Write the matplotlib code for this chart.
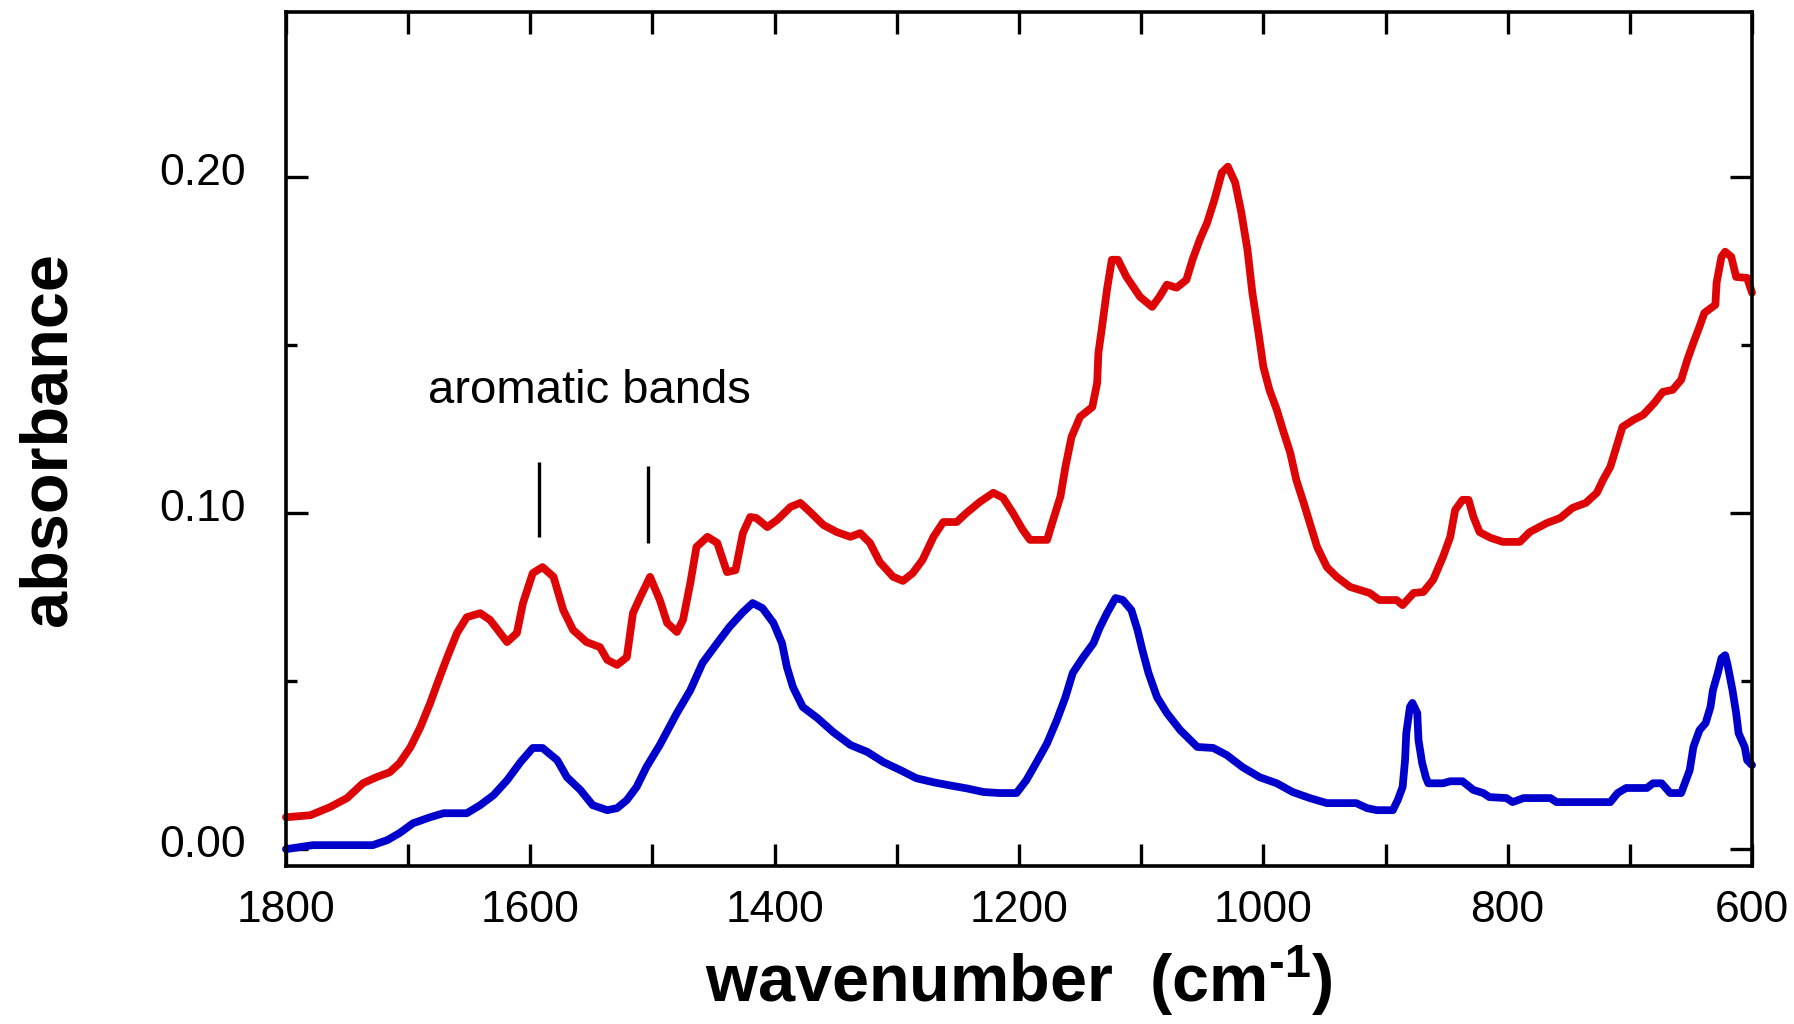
import matplotlib
matplotlib.use("Agg")
import matplotlib.pyplot as plt
import matplotlib.transforms as mtransforms
from matplotlib.ticker import MultipleLocator, FormatStrFormatter

plt.rcParams['font.family'] = ['Liberation Sans', 'DejaVu Sans']
plt.rcParams['mathtext.fontset'] = 'custom'
plt.rcParams['mathtext.rm'] = 'Liberation Sans'
plt.rcParams['mathtext.bf'] = 'Liberation Sans:bold'
plt.rcParams['mathtext.default'] = 'regular'

# spectrum 1 (red)
red_wn = [1800, 1780, 1764, 1750, 1737, 1726, 1715, 1707, 1698, 1690, 1682, 1676,
          1668, 1660, 1652, 1641, 1633, 1619, 1611, 1606, 1598, 1590, 1581, 1573,
          1565, 1554, 1543, 1537, 1529, 1521, 1516, 1510, 1502, 1494, 1488, 1480,
          1475, 1469, 1464, 1455, 1447, 1439, 1432, 1426, 1420, 1415, 1406, 1398,
          1387, 1379, 1371, 1360, 1349, 1338, 1330, 1322, 1314, 1303, 1295, 1287,
          1279, 1270, 1262, 1251, 1243, 1232, 1221, 1213, 1205, 1197, 1191, 1177,
          1172, 1166, 1162, 1157, 1150, 1140, 1136, 1135, 1132, 1128, 1124, 1119,
          1112, 1101, 1091, 1085, 1079, 1071, 1063, 1058, 1052, 1046, 1040, 1034,
          1029, 1023, 1018, 1013, 1009, 1004, 1000, 995, 989, 984, 978, 973, 967,
          962, 956, 948, 940, 929, 921, 913, 905, 891, 886, 877, 869, 861, 853, 847,
          843, 837, 832, 828, 823, 814, 804, 790, 782, 768, 757, 747, 736, 727, 722,
          716, 711, 706, 697, 689, 680, 673, 665, 658, 653, 648, 643, 639, 630, 629,
          625, 622, 617, 613, 604, 600]
red_abs = [0.0095, 0.0101, 0.0125, 0.0152, 0.0196, 0.0214, 0.0229, 0.0256, 0.0304,
           0.0363, 0.0434, 0.0494, 0.0571, 0.0643, 0.0690, 0.0702, 0.0682, 0.0616,
           0.0643, 0.0732, 0.0821, 0.0839, 0.0810, 0.0711, 0.0652, 0.0616, 0.0601,
           0.0563, 0.0548, 0.0571, 0.0702, 0.0750, 0.0810, 0.0741, 0.0673, 0.0646,
           0.0682, 0.0792, 0.0899, 0.0929, 0.0911, 0.0824, 0.0830, 0.0940, 0.0988,
           0.0985, 0.0958, 0.0979, 0.1018, 0.1030, 0.1003, 0.0964, 0.0943, 0.0929,
           0.0940, 0.0911, 0.0854, 0.0810, 0.0798, 0.0821, 0.0860, 0.0929, 0.0973,
           0.0973, 0.1000, 0.1033, 0.1060, 0.1045, 0.1000, 0.0950, 0.0920, 0.0920,
           0.0980, 0.1050, 0.1137, 0.1226, 0.1286, 0.1315, 0.1387, 0.1476, 0.1554,
           0.1664, 0.1753, 0.1753, 0.1702, 0.1643, 0.1613, 0.1643, 0.1679, 0.1670,
           0.1693, 0.1753, 0.1813, 0.1863, 0.1932, 0.2012, 0.2030, 0.1982, 0.1893,
           0.1783, 0.1655, 0.1536, 0.1435, 0.1366, 0.1307, 0.1247, 0.1179, 0.1098,
           0.1030, 0.0970, 0.0899, 0.0839, 0.0810, 0.0780, 0.0771, 0.0762, 0.0741,
           0.0741, 0.0726, 0.0762, 0.0765, 0.0801, 0.0869, 0.0929, 0.1009, 0.1039,
           0.1039, 0.0988, 0.0943, 0.0926, 0.0914, 0.0914, 0.0943, 0.0970, 0.0985,
           0.1015, 0.1030, 0.1060, 0.1098, 0.1137, 0.1196, 0.1256, 0.1277, 0.1292,
           0.1327, 0.1360, 0.1366, 0.1396, 0.1455, 0.1506, 0.1554, 0.1595, 0.1619,
           0.1685, 0.1762, 0.1777, 0.1762, 0.1702, 0.1699, 0.1655]

# spectrum 2 (blue)
blue_wn = [1800, 1789, 1778, 1729, 1717, 1707, 1696, 1682, 1671, 1652, 1641, 1630,
           1619, 1608, 1598, 1590, 1578, 1570, 1559, 1549, 1537, 1529, 1521, 1513,
           1505, 1494, 1480, 1469, 1459, 1447, 1437, 1426, 1418, 1410, 1401, 1394,
           1390, 1385, 1377, 1365, 1352, 1338, 1324, 1311, 1297, 1284, 1270, 1257,
           1243, 1229, 1216, 1202, 1194, 1186, 1177, 1169, 1162, 1156, 1148, 1139,
           1134, 1128, 1121, 1115, 1108, 1103, 1099, 1094, 1087, 1079, 1068, 1054,
           1041, 1030, 1017, 1003, 989, 976, 962, 948, 924, 915, 907, 894, 890, 886,
           884, 883, 880, 878, 874, 873, 870, 867, 865, 853, 847, 837, 828, 820, 815,
           801, 796, 787, 765, 760, 716, 710, 703, 686, 681, 674, 667, 658, 655, 651,
           648, 643, 638, 634, 632, 628, 625, 622, 620, 616, 613, 611, 606, 604, 600]
blue_abs = [0.0000, 0.0006, 0.0012, 0.0012, 0.0027, 0.0048, 0.0077, 0.0095, 0.0107,
            0.0107, 0.0131, 0.0161, 0.0205, 0.0259, 0.0301, 0.0301, 0.0265, 0.0214,
            0.0176, 0.0131, 0.0116, 0.0122, 0.0146, 0.0185, 0.0244, 0.0310, 0.0405,
            0.0473, 0.0554, 0.0613, 0.0661, 0.0705, 0.0732, 0.0717, 0.0673, 0.0613,
            0.0542, 0.0482, 0.0423, 0.0390, 0.0348, 0.0310, 0.0289, 0.0259, 0.0235,
            0.0211, 0.0199, 0.0190, 0.0181, 0.0170, 0.0167, 0.0167, 0.0205, 0.0256,
            0.0315, 0.0384, 0.0452, 0.0524, 0.0568, 0.0613, 0.0658, 0.0702, 0.0747,
            0.0741, 0.0711, 0.0652, 0.0592, 0.0524, 0.0452, 0.0405, 0.0354, 0.0304,
            0.0301, 0.0280, 0.0244, 0.0214, 0.0196, 0.0170, 0.0152, 0.0137, 0.0137,
            0.0122, 0.0116, 0.0116, 0.0146, 0.0185, 0.0265, 0.0345, 0.0423, 0.0435,
            0.0405, 0.0324, 0.0256, 0.0214, 0.0196, 0.0196, 0.0202, 0.0202, 0.0176,
            0.0167, 0.0155, 0.0152, 0.0140, 0.0152, 0.0152, 0.0140, 0.0140, 0.0167,
            0.0182, 0.0182, 0.0196, 0.0196, 0.0167, 0.0167, 0.0196, 0.0235, 0.0304,
            0.0354, 0.0375, 0.0423, 0.0473, 0.0524, 0.0568, 0.0577, 0.0548, 0.0473,
            0.0405, 0.0345, 0.0304, 0.0265, 0.0250]

# aromatic band markers: (wavenumber, bottom, top)
band_wn = [1593, 1504]
band_lo = [0.0929, 0.0911]
band_hi = [0.1152, 0.1140]

fig = plt.figure(figsize=(17.94, 10.24), dpi=100)
ax = fig.add_axes([0.1594, 0.1543, 0.8172, 0.834])

ax.plot(red_wn, red_abs, color='#DD0505', lw=5.6, solid_capstyle='round',
        solid_joinstyle='round', clip_on=False)
ax.plot(blue_wn, blue_abs, color='#0000CC', lw=5.6, solid_capstyle='round',
        solid_joinstyle='round', clip_on=False)

ax.vlines(band_wn, band_lo, band_hi, color='black', lw=2.4)
ax.text(1552, 0.1327, 'aromatic bands', fontsize=34, ha='center', va='baseline')

ax.set_xlim(1800, 600)
ax.set_ylim(-0.005, 0.249)

ax.xaxis.set_major_locator(MultipleLocator(200))
ax.xaxis.set_minor_locator(MultipleLocator(100))
ax.yaxis.set_major_locator(MultipleLocator(0.10))
ax.yaxis.set_minor_locator(MultipleLocator(0.05))
ax.yaxis.set_major_formatter(FormatStrFormatter('%.2f'))

ax.tick_params(which='both', direction='in', top=True, right=True, width=2.4)
ax.tick_params(axis='x', which='both', length=15.5, pad=17, labelsize=32)
ax.tick_params(axis='y', which='major', length=15.5, pad=29, labelsize=32)
ax.tick_params(axis='y', which='minor', length=8)
for sp in ax.spines.values():
    sp.set_linewidth(2.6)

shift = mtransforms.ScaledTranslation(0, 0.08, fig.dpi_scale_trans)
for lab in ax.get_yticklabels():
    lab.set_transform(lab.get_transform() + shift)

# plain hyphen in the exponent rather than a math minus
ax.set_xlabel('wavenumber  (cm$^{\u20101}$)', fontsize=48, fontweight='bold')
ax.xaxis.set_label_coords(0.5, -0.09)
ax.set_ylabel('absorbance', fontsize=48, fontweight='bold')
ax.yaxis.set_label_coords(-0.1405, 0.5)

fig.savefig('out.png', dpi=100)
